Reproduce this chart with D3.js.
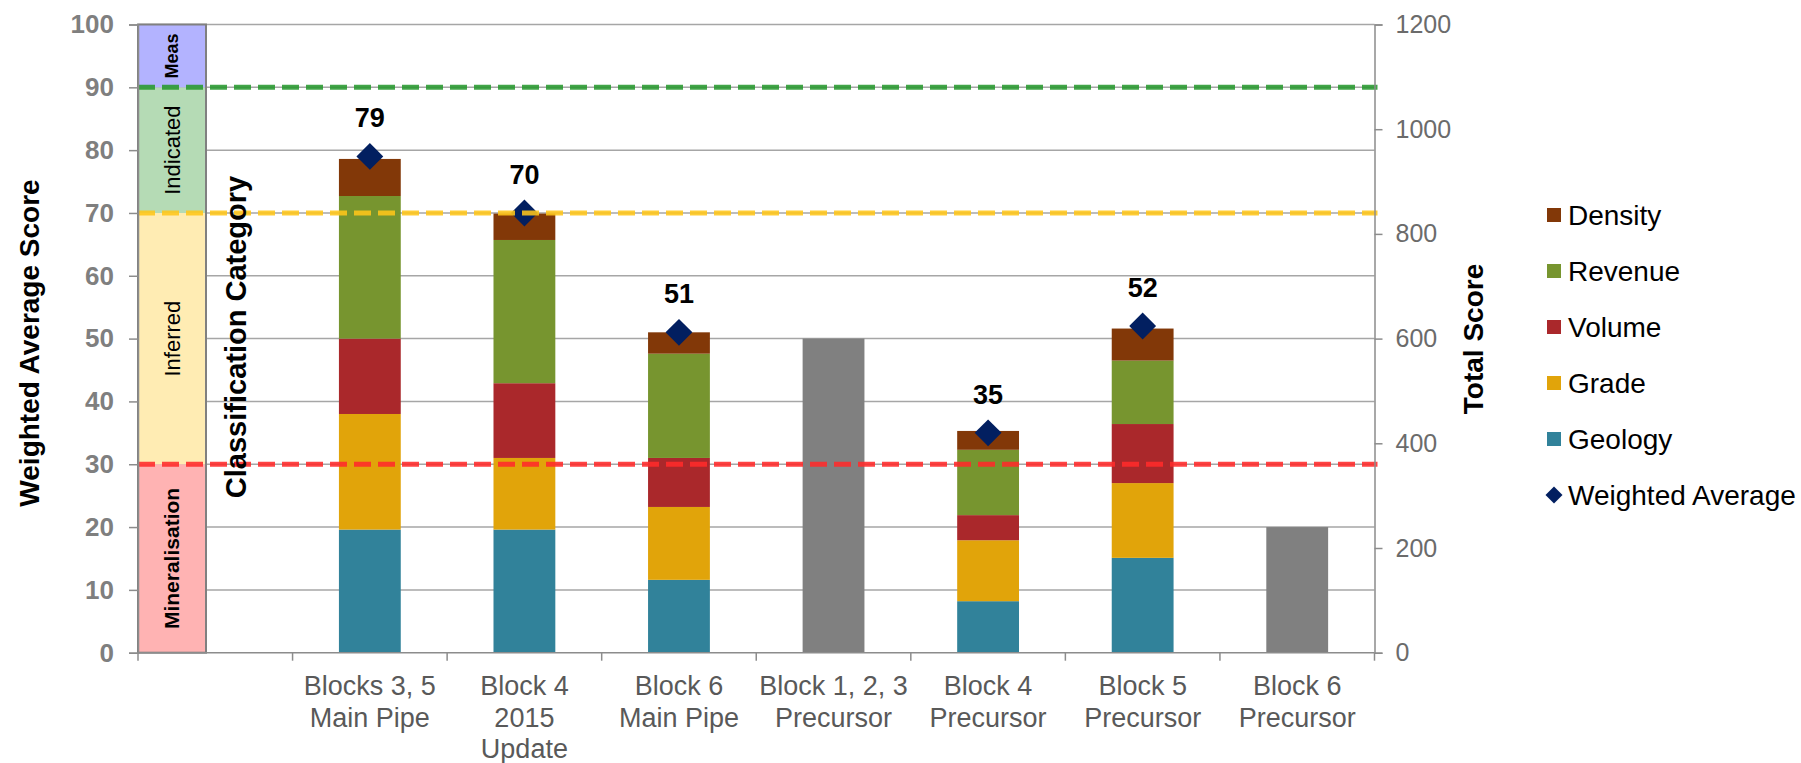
<!DOCTYPE html>
<html>
<head>
<meta charset="utf-8">
<script src="https://cdn.jsdelivr.net/npm/d3@7"></script>
<style>
  body { margin: 0; background: #fff; }
  text { font-family: "Liberation Sans", Arial, sans-serif; }
</style>
</head>
<body>
<svg id="chart" width="1801" height="763"></svg>
<script>
// ---- data ----
// First slot is left empty: it holds the classification category column.
const categoryLines = [
  [],
  ["Blocks 3, 5", "Main Pipe"],
  ["Block 4", "2015", "Update"],
  ["Block 6", "Main Pipe"],
  ["Block 1, 2, 3", "Precursor"],
  ["Block 4", "Precursor"],
  ["Block 5", "Precursor"],
  ["Block 6", "Precursor"]
];
const seriesNames = ["Geology", "Grade", "Volume", "Revenue", "Density"];
const geology  = [null, 19.6, 19.6, 11.6, null,  8.2, 15.1, null];
const grade    = [null, 18.4, 11.4, 11.6, null,  9.7, 11.9, null];
const volume   = [null, 12.0, 11.9,  7.8, null,  4.0,  9.4, null];
const revenue  = [null, 22.7, 22.8, 16.6, null, 10.4, 10.1, null];
const density  = [null,  5.9,  4.2,  3.4, null,  3.0,  5.1, null];
const weightedAverage = [null, 79, 70, 51, null, 35, 52, null];
const totalScore      = [null, null, null, null, 600, null, null, 240];

const classNames = ["Mineralisation", "Inferred", "Indicated", "Meas"];
const classLower = [0, 30, 70, 90];
const classUpper = [30, 70, 90, 100];
const thresholdValues = [30, 70, 90];

const leftTicks  = [0, 10, 20, 30, 40, 50, 60, 70, 80, 90, 100];
const rightTicks = [0, 200, 400, 600, 800, 1000, 1200];

// ---- styles ----
const seriesColors = {
  Geology: "#31829a", Grade: "#e1a40a", Volume: "#aa282b",
  Revenue: "#77952f", Density: "#823808"
};
const classColors = ["#ffb3b3", "#ffecb3", "#b5dbb5", "#b3b3ff"];
const classFont = [
  { size: 21, weight: "bold" }, { size: 22, weight: "normal" },
  { size: 22, weight: "normal" }, { size: 18, weight: "bold" }
];
const thresholdColors = ["#ff2a2a", "#ffc61a", "#28982f"];
const totalColor = "#808080";
const markerColor = "#021f60";

// ---- layout ----
const svg = d3.select("#chart");
const plotLeft = 138, plotRight = 1374.5, plotTop = 24.5, plotBottom = 652.7;

const x = d3.scaleBand().domain(d3.range(categoryLines.length)).range([plotLeft, plotRight]).padding(0);
const y = d3.scaleLinear().domain([0, 100]).range([plotBottom, plotTop]);
const y2 = d3.scaleLinear().domain([0, 1200]).range([plotBottom, plotTop]);
const bw = x.bandwidth();
const barW = bw * 0.4;

// gridlines
svg.append("g").selectAll("line")
  .data(leftTicks.filter(t => t > 0))
  .join("line")
  .attr("x1", plotLeft).attr("x2", plotRight)
  .attr("y1", d => y(d)).attr("y2", d => y(d))
  .attr("stroke", "#a6a6a6").attr("stroke-width", 1.5);

// classification category column
const bandX = x(0), bandW = bw * 0.44;
const bandG = svg.append("g");
bandG.selectAll("rect")
  .data(classNames.map((n, i) => ({ n, i })))
  .join("rect")
  .attr("x", bandX).attr("width", bandW)
  .attr("y", d => y(classUpper[d.i]))
  .attr("height", d => y(classLower[d.i]) - y(classUpper[d.i]))
  .attr("fill", d => classColors[d.i]);
bandG.append("rect")
  .attr("x", bandX).attr("y", y(100)).attr("width", bandW).attr("height", y(0) - y(100))
  .attr("fill", "none").attr("stroke", "#808080").attr("stroke-width", 2);
bandG.selectAll("text")
  .data(classNames.map((n, i) => ({ n, i })))
  .join("text")
  .attr("transform", d => `translate(${bandX + bandW / 2},${y((classLower[d.i] + classUpper[d.i]) / 2)}) rotate(-90)`)
  .attr("text-anchor", "middle").attr("dy", "0.35em")
  .attr("font-size", d => classFont[d.i].size)
  .attr("font-weight", d => classFont[d.i].weight)
  .attr("fill", "#000")
  .text(d => d.n);

// stacked component bars
const rows = categoryLines.map((c, i) => ({
  idx: i, Geology: geology[i], Grade: grade[i], Volume: volume[i],
  Revenue: revenue[i], Density: density[i]
})).filter(r => r.Geology !== null);
const stacked = d3.stack().keys(seriesNames)(rows);
svg.append("g").selectAll("g")
  .data(stacked)
  .join("g")
  .attr("fill", s => seriesColors[s.key])
  .selectAll("rect")
  .data(s => s)
  .join("rect")
  .attr("x", d => x(d.data.idx) + (bw - barW) / 2)
  .attr("width", barW)
  .attr("y", d => y(d[1]))
  .attr("height", d => y(d[0]) - y(d[1]));

// total score bars (right axis)
svg.append("g").selectAll("rect")
  .data(totalScore.map((v, i) => ({ v, i })).filter(d => d.v !== null))
  .join("rect")
  .attr("x", d => x(d.i) + (bw - barW) / 2)
  .attr("width", barW)
  .attr("y", d => y2(d.v))
  .attr("height", d => y2(0) - y2(d.v))
  .attr("fill", totalColor);

// weighted average markers
const wa = weightedAverage.map((v, i) => ({ v, i })).filter(d => d.v !== null);
const diamond = d3.symbol().type(d3.symbolSquare).size(19 * 19);
svg.append("g").selectAll("path")
  .data(wa)
  .join("path")
  .attr("d", diamond)
  .attr("transform", d => `translate(${x(d.i) + bw / 2},${y(d.v)}) rotate(45)`)
  .attr("fill", markerColor);

// classification thresholds
svg.append("g").selectAll("line")
  .data(thresholdValues.map((v, i) => ({ v, i })))
  .join("line")
  .attr("x1", plotLeft).attr("x2", plotRight + 3)
  .attr("y1", d => y(d.v)).attr("y2", d => y(d.v))
  .attr("stroke", d => thresholdColors[d.i])
  .attr("stroke-opacity", 0.88)
  .attr("stroke-width", 5)
  .attr("stroke-dasharray", "17 7");

// value labels
svg.append("g").selectAll("text")
  .data(wa)
  .join("text")
  .attr("x", d => x(d.i) + bw / 2)
  .attr("y", d => y(d.v) - 29)
  .attr("text-anchor", "middle")
  .attr("font-size", 27).attr("font-weight", "bold").attr("fill", "#000")
  .text(d => d.v);

// axes
const axisColor = "#8c8c8c";
const leftAxis = svg.append("g").attr("transform", `translate(${plotLeft},0)`)
  .call(d3.axisLeft(y).tickValues(leftTicks).tickSize(9).tickPadding(15).tickFormat(d3.format("d")));
leftAxis.selectAll("text").attr("font-size", 26).attr("font-weight", "bold")
  .attr("fill", "#7f7f7f").attr("font-family", "Liberation Sans, Arial, sans-serif");

const rightAxis = svg.append("g").attr("transform", `translate(${plotRight},0)`)
  .call(d3.axisRight(y2).tickValues(rightTicks).tickSize(8).tickPadding(13).tickFormat(d3.format("d")));
rightAxis.selectAll("text").attr("font-size", 25)
  .attr("fill", "#6b6b6b").attr("font-family", "Liberation Sans, Arial, sans-serif");

[leftAxis, rightAxis].forEach(a => {
  a.select(".domain").attr("stroke", axisColor).attr("stroke-width", 1.5);
  a.selectAll(".tick line").attr("stroke", axisColor).attr("stroke-width", 1.5);
});

// category axis
const xg = svg.append("g");
xg.append("line").attr("x1", plotLeft).attr("x2", plotRight)
  .attr("y1", plotBottom).attr("y2", plotBottom)
  .attr("stroke", axisColor).attr("stroke-width", 1.5);
xg.selectAll("line.tick")
  .data(d3.range(categoryLines.length + 1))
  .join("line").attr("class", "tick")
  .attr("x1", i => plotLeft + i * bw).attr("x2", i => plotLeft + i * bw)
  .attr("y1", plotBottom).attr("y2", plotBottom + 8)
  .attr("stroke", axisColor).attr("stroke-width", 1.5);
xg.selectAll("text.cat")
  .data(categoryLines.map((lines, i) => ({ lines, i })))
  .join("text").attr("class", "cat")
  .attr("text-anchor", "middle")
  .attr("font-size", 27).attr("fill", "#595959")
  .each(function (d) {
    d3.select(this).selectAll("tspan")
      .data(d.lines)
      .join("tspan")
      .attr("x", x(d.i) + bw / 2)
      .attr("y", (l, k) => 695 + k * 31.5)
      .text(l => l);
  });

// axis titles
svg.append("text")
  .attr("transform", "translate(39,343) rotate(-90)")
  .attr("text-anchor", "middle").attr("font-size", 28).attr("font-weight", "bold")
  .text("Weighted Average Score");
svg.append("text")
  .attr("transform", "translate(1483,339) rotate(-90)")
  .attr("text-anchor", "middle").attr("font-size", 28).attr("font-weight", "bold")
  .text("Total Score");
svg.append("text")
  .attr("transform", "translate(246,337) rotate(-90)")
  .attr("text-anchor", "middle").attr("font-size", 29).attr("font-weight", "bold")
  .text("Classification Category");

// legend
const legendItems = ["Density", "Revenue", "Volume", "Grade", "Geology", "Weighted Average"];
const lg = svg.append("g");
legendItems.forEach((name, i) => {
  const cy = 215 + i * 56;
  if (name === "Weighted Average") {
    lg.append("path")
      .attr("d", d3.symbol().type(d3.symbolSquare).size(12 * 12))
      .attr("transform", `translate(1554,${cy}) rotate(45)`)
      .attr("fill", markerColor);
  } else {
    lg.append("rect")
      .attr("x", 1547).attr("y", cy - 7).attr("width", 14).attr("height", 14)
      .attr("fill", seriesColors[name]);
  }
  lg.append("text")
    .attr("x", 1568).attr("y", cy).attr("dy", "0.35em")
    .attr("font-size", 28).attr("fill", "#000")
    .text(name);
});
</script>
</body>
</html>
